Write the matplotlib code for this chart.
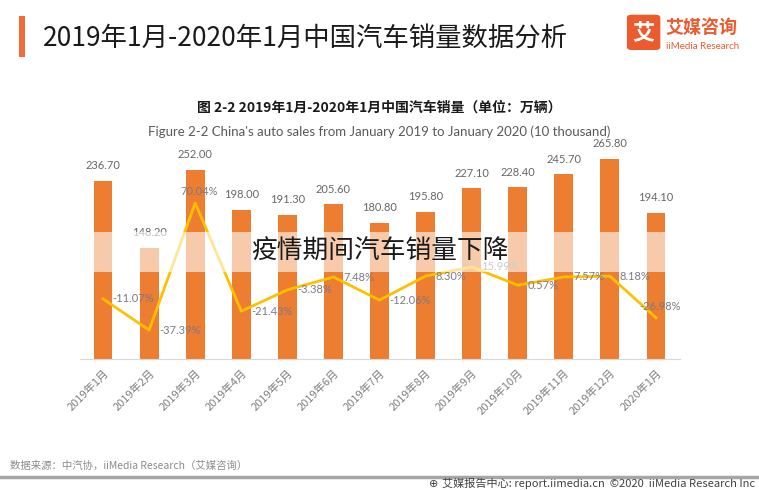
import matplotlib
matplotlib.use("Agg")
import matplotlib.pyplot as plt  # noqa: E402
from matplotlib.patches import Rectangle, FancyBboxPatch  # noqa: E402

plt.rcParams["font.family"] = ["Noto Sans CJK SC", "DejaVu Sans"]

months = ["2019年1月", "2019年2月", "2019年3月", "2019年4月", "2019年5月", "2019年6月",
          "2019年7月", "2019年8月", "2019年9月", "2019年10月", "2019年11月", "2019年12月",
          "2020年1月"]
sales = [236.70, 148.20, 252.00, 198.00, 191.30, 205.60, 180.80, 195.80,
         227.10, 228.40, 245.70, 265.80, 194.10]
growth = [-11.07, -37.39, 70.04, -21.43, -3.38, 7.48, -12.06, 8.30,
          15.99, 0.57, 7.57, 8.18, -26.98]
# labels of the growth line drawn above the point instead of to the right
growth_above = {2, 12}

band_text = "疫情期间汽车销量下降"
title = "2019年1月-2020年1月中国汽车销量数据分析"
sub_cn = "图 2-2 2019年1月-2020年1月中国汽车销量（单位：万辆）"
sub_en = "Figure 2-2 China's auto sales from January 2019 to January 2020 (10 thousand)"
source = "数据来源：中汽协，iiMedia Research（艾媒咨询）"
footer = "艾媒报告中心: report.iimedia.cn  ©2020  iiMedia Research Inc"

ORANGE = "#ED7D31"
YELLOW = "#FFC000"
LOGO = "#EB5B2D"

fig = plt.figure(figsize=(7.59, 4.90), dpi=100)
ax = fig.add_axes([0.1054, 0.2673, 0.7905, 0.4265])
ax2 = ax.twinx()

x = list(range(len(months)))
bars = ax.bar(x, sales, width=0.41, color=ORANGE, zorder=2)
for xi, v in zip(x, sales):
    ax.annotate(f"{v:.2f}", (xi, v), xytext=(0, 11), textcoords="offset points",
                ha="center", va="center", fontsize=8, color="#666666", family="Lato")

ax.set_xlim(-0.5, 12.52)
ax.set_ylim(0, 278)
ax.set_yticks([])
ax.set_xticks(x)
ax.set_xticklabels(months, rotation=45, ha="right", rotation_mode="anchor",
                   fontsize=8, color="#7f7f7f")
ax.tick_params(axis="x", length=0, pad=6)
for s in ["top", "right", "left"]:
    ax.spines[s].set_visible(False)
ax.spines["bottom"].set_color("#D9D9D9")

ax2.plot(x, growth, color=YELLOW, lw=2.0, zorder=3)
ax2.set_ylim(-61.9, 114.9)
ax2.set_yticks([])
for s in ax2.spines.values():
    s.set_visible(False)
for i, (xi, g) in enumerate(zip(x, growth)):
    if i in growth_above:
        ax2.annotate(f"{g:.2f}%", (xi, g), xytext=(3, 8), textcoords="offset points",
                     ha="center", va="center", fontsize=8, color="#7a7a85", family="Lato")
    else:
        ax2.annotate(f"{g:.2f}%", (xi, g), xytext=(7, 0), textcoords="offset points",
                     ha="left", va="center", fontsize=8, color="#7a7a85", family="Lato")

# translucent band over the chart with the callout text
ax2.add_patch(Rectangle((-0.21, 115.7), 12.42, 53.2, transform=ax.transData,
                        facecolor="white", alpha=0.6, edgecolor="none", zorder=5))
ax2.text(6, 143, band_text, transform=ax.transData, ha="center", va="center",
         fontsize=18.5, fontweight="light", color="#1a1a1a", zorder=6)

# header
fig.add_artist(Rectangle((0.025, 0.883), 0.008, 0.085, transform=fig.transFigure,
                         facecolor="#F26B3A", edgecolor="none"))
fig.text(0.056, 0.922, title, fontsize=19, color="#1a1a1a", va="center", ha="left")
fig.add_artist(FancyBboxPatch((0.828, 0.900), 0.040, 0.068, transform=fig.transFigure,
                              boxstyle="round,pad=0.002,rounding_size=0.006",
                              facecolor=LOGO, edgecolor="none"))
fig.text(0.848, 0.934, "艾", fontsize=16, color="white", fontweight="bold",
         ha="center", va="center")
fig.text(0.877, 0.944, "艾媒咨询", fontsize=13, color=LOGO, fontweight="bold",
         ha="left", va="center")
fig.text(0.877, 0.906, "iiMedia Research", fontsize=7, color=LOGO,
         ha="left", va="center", family="Lato")

fig.text(0.5, 0.781, sub_cn, fontsize=10, fontweight="bold", color="#1a1a1a",
         ha="center", va="center")
fig.text(0.5, 0.732, sub_en, fontsize=9.5, color="#595959", ha="center", va="center",
         family="Lato")

# footer
fig.text(0.013, 0.049, source, fontsize=7.5, color="#8c8c8c", ha="left", va="center")
fig.add_artist(plt.Line2D([0, 1], [0.027, 0.027], transform=fig.transFigure,
                          color="#A6A6A6", lw=2.5))
fig.text(0.578, 0.013, "⊕", fontsize=8, color="#404040", ha="right", va="center",
         family="DejaVu Sans")
fig.text(0.582, 0.013, footer, fontsize=8, color="#404040", ha="left", va="center")

fig.savefig("out.png", dpi=100)
